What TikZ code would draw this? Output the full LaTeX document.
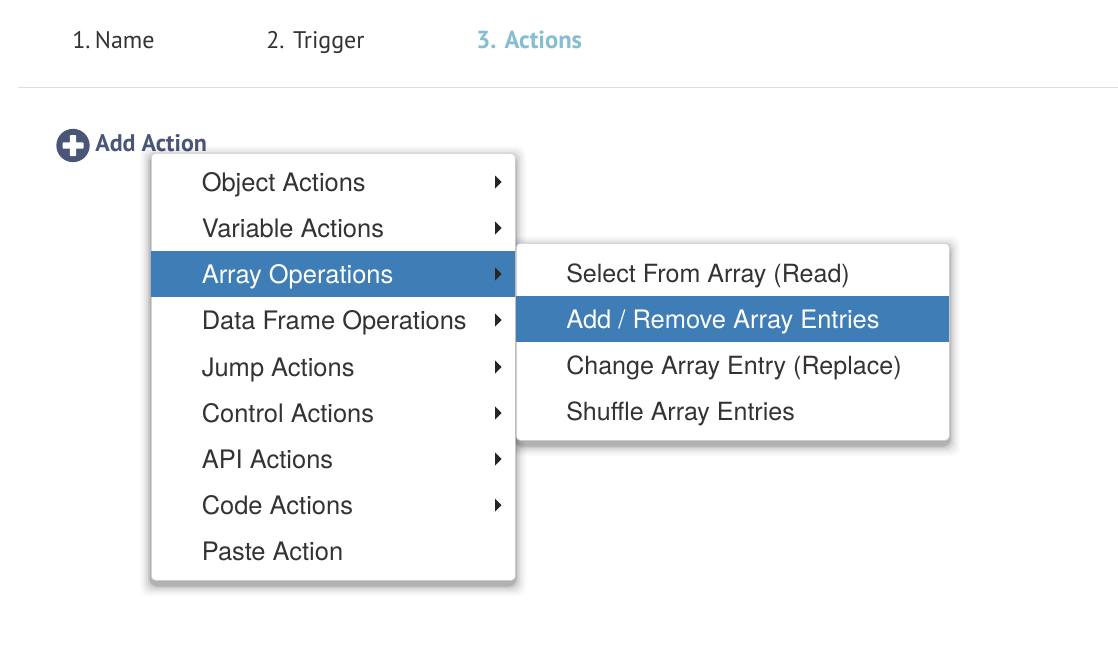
\documentclass[tikz,border=0pt]{standalone}
\usepackage{fontspec}
\setmainfont{TeX Gyre Heros}
\newfontfamily\tabfont{PT Sans}
\usetikzlibrary{calc}
\definecolor{menublue}{HTML}{3F7DB6}
\definecolor{tabteal}{HTML}{86BDD0}
\definecolor{addnavy}{HTML}{4A5678}
\definecolor{menutext}{HTML}{333333}
\tikzstyle{tab}=[anchor=base west,inner sep=0pt,font=\tabfont\fontsize{18}{20}\selectfont,text=menutext]
\tikzstyle{menubox}=[draw=black!20,line width=0.5pt,fill=white,rounded corners=3pt]
\tikzstyle{item}=[anchor=base west,inner sep=0pt,font=\fontsize{19.1}{22}\selectfont,text=menutext]
\tikzstyle{activeitem}=[item,text=white]
\tikzstyle{rowband}=[fill=menublue,draw=none,inner sep=0pt,anchor=north west]
\tikzstyle{arrowtip}=[fill=black!85,draw=none]
\begin{document}
\begin{tikzpicture}[x=0.75pt,y=-0.75pt]
    \useasboundingbox (0,0) rectangle (1118,646);

    % tabs along the top
    \foreach \pos/ \name/ \label in {{(72,48)/tabname/1.\kern-1.5pt\ Name},{(266,48)/tabtrigger/2. Trigger}}
        \node[tab] (\name) at \pos {\label};
    \node[tab,text=tabteal,font=\tabfont\bfseries\fontsize{18.5}{20}\selectfont] (tabactions) at (476,48) {3. Actions};
    \coordinate (ruleleft) at (18,87.5);
    \coordinate (ruleright) at (1118,87.5);
    \draw[black!13,line width=0.75pt] (ruleleft) -- (ruleright);

    % add button
    \node[circle,fill=addnavy,minimum size=25pt,inner sep=0pt] (addicon) at (73,145.5) {};
    \fill[white,rounded corners=0.6pt] ($(addicon)+(-10.5,-3.2)$) rectangle ($(addicon)+(10.5,3.2)$);
    \fill[white,rounded corners=0.6pt] ($(addicon)+(-3.2,-10.5)$) rectangle ($(addicon)+(3.2,10.5)$);
    \node[tab,text=addnavy,font=\tabfont\bfseries\fontsize{18}{20}\selectfont] (addlabel) at (95,151) {Add Action};

    % soft shadows, widest first
    \foreach \grow/\shade in {11/0.02,9/0.03,7/0.04,5/0.06,3/0.08,1.5/0.12} {
        \fill[black,opacity=\shade,rounded corners=6pt] (151-\grow,153+4-\grow) rectangle (515+\grow,580+5+\grow);
        \fill[black,opacity=\shade,rounded corners=6pt] (516-\grow,243+4-\grow) rectangle (949+\grow,440+5+\grow);
    }

    % main menu
    \node[menubox,minimum width=273pt,minimum height=320.25pt,inner sep=0pt,anchor=north west] (mainmenu) at (151,153) {};
    \node[rowband,minimum width=273pt,minimum height=34.5pt] (arrayrow) at (151,251) {};
    \foreach \ypos/ \name/ \label in {191/objects/Object Actions, 237/variables/Variable Actions, 329/frames/Data Frame Operations, 376/jumps/Jump Actions, 422/controls/Control Actions, 468/apis/API Actions, 514/codes/Code Actions, 560/paste/Paste Action}
        \node[item] (\name) at (201.5,\ypos) {\label};
    \node[activeitem] (arrays) at (201.5,283) {Array Operations};

    % submenu markers
    \foreach \ypos in {182,228,274,320,367,413,459,505}
        \fill[arrowtip] (495,\ypos-6.5) -- (501.5,\ypos) -- (495,\ypos+6.5) -- cycle;

    % sub menu
    \node[menubox,minimum width=324.75pt,minimum height=147.75pt,inner sep=0pt,anchor=north west] (submenu) at (516,243) {};
    \node[rowband,minimum width=324.75pt,minimum height=34.5pt] (addrow) at (516,296) {};
    \foreach \ypos/ \name/ \label in {282/selectread/Select From Array (Read), 374/changeentry/Change Array Entry (Replace), 420/shuffle/Shuffle Array Entries}
        \node[item,font=\fontsize{18.8}{22}\selectfont] (\name) at (566,\ypos) {\label};
    \node[activeitem] (addremove) at (566,328) {Add / Remove Array Entries};
\end{tikzpicture}
\end{document}
